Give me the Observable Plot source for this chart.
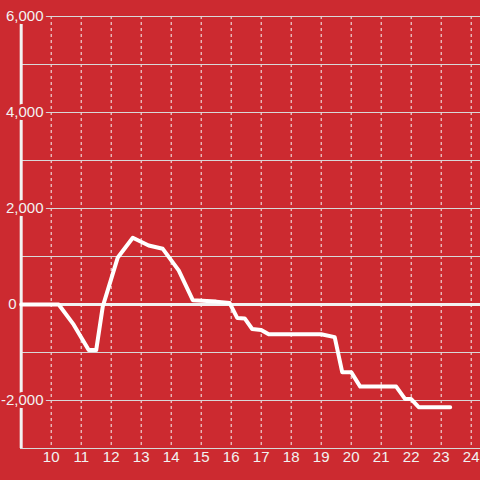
<!DOCTYPE html>
<html><head><meta charset="utf-8">
<script src="https://cdn.jsdelivr.net/npm/d3@7"></script>
<script src="https://cdn.jsdelivr.net/npm/@observablehq/plot@0.6"></script>
<style>html,body{margin:0;padding:0;background:#cc2a30;}</style>
</head><body><div id="chart"></div>
<script>
const hours  = [9.0, 10.25, 10.75, 11.25, 11.5, 11.72, 12.22, 12.72, 13.25, 13.72, 14.25, 14.72, 15.5, 15.95, 16.2, 16.45, 16.7, 17.0, 17.25, 19.0, 19.45, 19.7, 20.0, 20.3, 21.5, 21.8, 22.0, 22.25, 23.3];
const values = [0, 0, -420, -950, -950, -40, 980, 1390, 1230, 1160, 710, 90, 60, 30, -280, -290, -510, -530, -620, -620, -680, -1410, -1410, -1710, -1710, -1970, -1970, -2140, -2140];
const xTicks = [10, 11, 12, 13, 14, 15, 16, 17, 18, 19, 20, 21, 22, 23, 24];
const yTicks = [6000, 4000, 2000, 0, -2000];
const yGrid  = [6000, 5000, 4000, 3000, 2000, 1000, -1000, -2000];

const data = hours.map((h, i) => ({h, v: values[i]}));
const bg = "#cc2a30";
const ink = "#f2f2f2";
const fmt = d => d.toLocaleString("en-US");

const chart = Plot.plot({
  width: 480, height: 480,
  marginLeft: 20, marginRight: 0, marginTop: 16, marginBottom: 32,
  style: {background: bg, color: ink, fontFamily: "'Liberation Sans', Arial, sans-serif", fontSize: "15px", overflow: "visible"},
  x: {domain: [8.977, 24.31], axis: null},
  y: {domain: [-3000, 6000], axis: null},
  marks: [
    Plot.ruleX(xTicks, {stroke: "#f5f5f5", strokeDasharray: "3,3", strokeWidth: 1}),
    Plot.ruleY(yGrid, {stroke: "#d8d8d8", strokeWidth: 1}),
    Plot.ruleY([-3000], {stroke: "#d8d8d8", strokeWidth: 1}),
    Plot.ruleY([0], {stroke: ink, strokeWidth: 3}),
    Plot.ruleX([9], {stroke: ink, strokeWidth: 3}),
    Plot.text(yTicks.filter(d => d !== 0), {y: d => d, frameAnchor: "left", textAnchor: "end", dx: 23, text: fmt,
      fill: ink, stroke: bg, strokeWidth: 6, paintOrder: "stroke"}),
    Plot.text(yTicks.filter(d => d === 0), {y: d => d, frameAnchor: "left", textAnchor: "end", dx: -4, text: fmt,
      fill: ink}),
    Plot.text(xTicks, {x: d => d, frameAnchor: "bottom", dy: 13, text: d => String(d), fill: ink}),
    Plot.line(data, {x: "h", y: "v", stroke: "white", strokeWidth: 4})
  ]
});
document.getElementById("chart").appendChild(chart);
</script>
</body></html>
